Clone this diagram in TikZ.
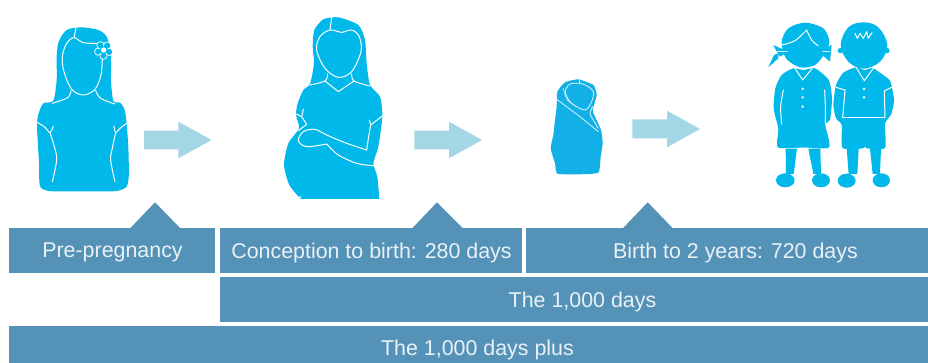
\documentclass[tikz,border=0pt]{standalone}
\usepackage{fontspec}
\setmainfont{Liberation Sans}
\definecolor{figblue}{HTML}{00B8EA}
\definecolor{babyblue}{HTML}{12B0E6}
\definecolor{arrowblue}{HTML}{A3D7E5}
\definecolor{barblue}{HTML}{5592B8}
\definecolor{bartext}{HTML}{E9F1F6}
\tikzset{
  bar/.style={fill=barblue,draw=none,inner sep=0pt,text=bartext,font=\fontsize{21.4}{24}\selectfont,anchor=center},
  peak/.style={fill=barblue,draw=none},
  flow/.style={fill=arrowblue,draw=none},
  sil/.style={fill=figblue,draw=none},
  seam/.style={draw=white,line width=1pt,line cap=round,line join=round},
  thinseam/.style={draw=white!85!figblue,line width=0.8pt,line cap=round,line join=round},
  zoomed/.style={x=0.3333pt,y=-0.3333pt},
  smoothline/.style={smooth,tension=0.55}
}
\begin{document}
\begin{tikzpicture}[x=1pt,y=-1pt]
\useasboundingbox (0,0) rectangle (928,363);
% bars
\path[peak] (130,228.5) -- (155,202.3) -- (180.5,228.5) -- cycle;
\path[peak] (412,228.5) -- (437,202.3) -- (463,228.5) -- cycle;
\path[peak] (622.7,228.5) -- (647.7,202.3) -- (673,228.5) -- cycle;
\path[bar] (9,228) rectangle (215,272.7);
\path[bar] (220,228) rectangle (522,272.7);
\path[bar] (526,228) rectangle (928,272.7);
\path[bar] (220,277) rectangle (928,321.7);
\path[bar] (9,326) rectangle (928,363);
\node[bar] (pre) at (112.5,252.5) {Pre-pregnancy};
\node[bar] (con) at (371.5,252.5) {Conception to birth: 280 days};
\node[bar] (bir) at (735.5,252.5) {Birth to 2 years: 720 days};
\node[bar] (kd) at (582.5,301.5) {The 1,000 days};
\node[bar] (kdp) at (477.5,350) {The 1,000 days plus};
% arrows
\path[flow] (144,130.7) -- (178.3,130.7) -- (178.3,121.7) -- (211.5,140) -- (178.3,158.3) -- (178.3,149.3) -- (144,149.3) -- cycle;
\path[flow] (414.3,130.7) -- (449,130.7) -- (449,121.7) -- (482,140) -- (449,158.3) -- (449,149.3) -- (414.3,149.3) -- cycle;
\path[flow] (632.3,119.5) -- (667,119.5) -- (667,110.7) -- (700,129) -- (667,147.3) -- (667,138.5) -- (632.3,138.5) -- cycle;
% woman with flower
\begin{scope}[zoomed]
\path[sil] plot[smooth cycle,tension=0.45] coordinates {(245,82) (200,90) (176,125) (170,170) (170,240) (160,302) (130,310) (116,340) (111,372) (113,420) (117,490) (120,558) (145,573) (200,574) (250,574) (300,574) (350,573) (380,560) (387,520) (386,480) (385,440) (380,370) (374,330) (360,308) (340,303) (333,240) (333,160) (320,110) (295,90)};
\draw[seam] (228,85) -- (222,113);
\draw[seam] plot[smoothline] coordinates {(290,130) (250,128) (222,113) (200,130) (187,170) (192,215) (215,268) (250,285) (285,268) (303,225) (307,175)};
\draw[seam] plot[smoothline] coordinates {(213,272) (203,293) (157,310)};
\draw[seam] plot[smoothline] coordinates {(287,272) (302,295) (345,312)};
\draw[seam] plot[smoothline] coordinates {(112,367) (135,382) (150,398) (160,378)};
\draw[seam] plot[smoothline] coordinates {(150,398) (163,440) (170,480) (157,545)};
\draw[seam] plot[smoothline] coordinates {(380,370) (360,385) (347,398) (342,378)};
\draw[seam] plot[smoothline] coordinates {(347,398) (338,440) (332,480) (345,545)};
\foreach \a in {0,72,144,216,288}
  \draw[seam,line width=0.7pt,fill=figblue] (311,150) ++(\a+20:17) circle (11);
\fill[figblue] (311,150) circle (12);
\fill[white] (311,150) circle (8);
\end{scope}
% pregnant woman
\begin{scope}[zoomed,shift={(270pt,0pt)}]
\path[sil] plot[smooth,tension=0.4] coordinates {(328,597) (322,530) (310,490) (325,440) (337,350) (330,290) (300,255) (290,190) (285,120) (265,75) (205,52) (160,58) (133,90) (128,140) (132,190) (120,252) (100,270) (83,310) (78,345) (87,385) (55,430) (42,495) (58,555) (92,597)} -- cycle;
\draw[seam] (185,52) -- (180,90);
\draw[seam] plot[smooth cycle,tension=0.55] coordinates {(180,90) (215,97) (245,90) (268,110) (273,155) (245,215) (205,232) (165,205) (140,150) (150,110)};
\draw[seam] plot[smoothline] coordinates {(173,222) (165,243) (120,255)};
\draw[seam] plot[smoothline] coordinates {(245,222) (252,243) (300,258)};
\draw[seam] (165,243) -- (205,275) -- (252,243);
\draw[seam] (337,348) -- (302,375) -- (298,360);
\draw[seam] plot[smoothline] coordinates {(302,375) (296,410) (290,450)};
\draw[seam] plot[smoothline] coordinates {(290,450) (225,428) (170,405) (135,388) (100,395) (85,422) (110,440) (170,432)};
\draw[seam] plot[smoothline] coordinates {(170,432) (205,465) (260,490) (310,497)};
\draw[seam] (78,342) -- (95,350) -- (110,373) -- (85,392);
\draw[seam] (95,350) -- (100,328);
\fill[white!70!figblue] (90,592) circle (5);
\end{scope}
% baby
\begin{scope}[zoomed,shift={(530pt,-50pt)}]
\path[fill=babyblue] plot[smooth cycle,tension=0.3] coordinates {(145,88) (105,97) (82,125) (80,170) (75,210) (70,255) (62,295) (75,340) (82,371) (145,373) (205,368) (212,320) (218,280) (213,240) (195,200) (188,180) (200,135) (190,105)};
\draw[thinseam] (148,86) -- (148,100);
\draw[thinseam] plot[smooth cycle,tension=0.5] coordinates {(148,100) (118,103) (106,128) (125,160) (165,180) (185,155) (190,125) (170,107)};
\draw[thinseam,line width=0.6pt] plot[smoothline] coordinates {(100,115) (112,150) (140,170)};
\draw[thinseam] (80,148) -- (150,200) -- (205,245);
\draw[thinseam] plot[smoothline] coordinates {(188,170) (180,190) (190,210) (205,235)};
\end{scope}
% children
\begin{scope}[zoomed,shift={(750pt,-10pt)}]
% girl
\path[sil] plot[smooth cycle,tension=0.5] coordinates {(165,38) (115,55) (95,95) (108,145) (150,172) (195,165) (225,130) (238,95) (220,55)};
\path[sil] (55,172) -- (72,135) -- (85,130) -- (85,145) -- cycle;
\path[sil] (70,105) -- (115,125) -- (90,140) -- (80,125) -- cycle;
\path[sil] (245,105) -- (205,125) -- (240,155) -- cycle;
\draw[thinseam] (80,125) -- (112,125);
\draw[thinseam] (218,125) -- (240,125);
\path[sil] plot[smooth cycle,tension=0.4] coordinates {(130,175) (95,195) (76,235) (71,295) (82,342) (86,360) (84,412) (160,412) (237,412) (226,345) (240,330) (246,265) (236,210) (195,175) (160,180)};
\path[sil] (84,412) -- (85,350) -- (225,350) -- (237,412) -- cycle;
\draw[seam] plot[smoothline] coordinates {(95,105) (135,92) (170,60)};
\draw[seam] plot[smoothline] coordinates {(170,60) (185,90) (205,108)};
\draw[seam] (135,175) -- (158,210) -- (187,175);
\draw[seam] plot[smoothline] coordinates {(100,240) (92,290) (95,342)};
\draw[seam] plot[smoothline] coordinates {(224,240) (226,290) (226,342)};
\fill[white] (158,237) circle (4) (158,262) circle (4) (158,290) circle (4);
\path[sil] (107,416) -- (141,416) -- (131,492) -- (108,492) -- cycle;
\path[sil] (175,416) -- (211,416) -- (213,492) -- (190,492) -- cycle;
\path[sil] (106,511) ellipse (28 and 21);
\path[sil] (213,511) ellipse (27 and 21);
% boy
\path[sil] plot[smooth cycle,tension=0.6] coordinates {(340,37) (295,52) (272,105) (295,155) (340,176) (390,155) (412,105) (385,52)};
\path[sil] (271,122) circle (8) (411,122) circle (8);
\path[sil] plot[smooth cycle,tension=0.35] coordinates {(318,172) (280,188) (258,225) (250,285) (258,325) (275,345) (278,414) (342,414) (345,388) (348,414) (405,414) (405,342) (424,312) (432,270) (420,212) (385,185) (368,174) (343,180)};
\draw[seam] (318,172) -- (343,212) -- (370,175);
\draw[seam] (278,323) -- (405,323);
\draw[seam] (258,232) -- (285,240) -- (278,323);
\draw[seam] (425,232) -- (403,243) -- (405,323);
\draw[seam] (315,70) -- (322,85) -- (330,70) -- (340,85) -- (350,65) -- (355,85) -- (366,68);
\fill[white] (342,237) circle (4) (342,262) circle (4);
\path[sil] (290,416) -- (326,416) -- (322,492) -- (296,492) -- cycle;
\path[sil] (360,416) -- (393,416) -- (390,492) -- (368,492) -- cycle;
\path[sil] (290,512) ellipse (27 and 21);
\path[sil] (394,511) ellipse (26 and 21);
\end{scope}
\end{tikzpicture}
\end{document}
